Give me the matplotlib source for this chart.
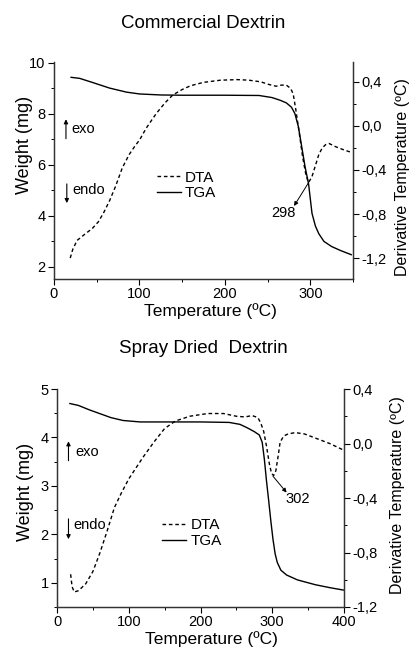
"""TGA / DTA curves for commercial and spray dried dextrin (two stacked panels)."""
import matplotlib

matplotlib.use("Agg")
import matplotlib.pyplot as plt
from matplotlib.lines import Line2D
from matplotlib.ticker import FuncFormatter, MultipleLocator

plt.rcParams["font.family"] = ["Liberation Sans", "DejaVu Sans"]

# --- Commercial dextrin ---
COM_TGA_T = [20, 30, 45, 65, 85, 100, 125, 150, 200, 240, 255, 265, 272, 278, 282, 286,
             290, 294, 298, 302, 306, 310, 316, 325, 335, 348]
COM_TGA_W = [9.42, 9.38, 9.22, 9.0, 8.84, 8.77, 8.73, 8.72, 8.72, 8.71, 8.63, 8.52, 8.42,
             8.25, 8.0, 7.5, 6.7, 5.9, 5.25, 4.1, 3.6, 3.3, 3.0, 2.8, 2.65, 2.48]
COM_DTA_T = [19, 22, 27, 35, 45, 52, 58, 65, 72, 80, 88, 95, 100, 108, 115, 120, 130, 139,
             150, 160, 175, 195, 215, 228, 242, 252, 260, 266, 272, 277, 280, 283, 287, 291,
             295, 298, 302, 306, 310, 314, 318, 322, 330, 340, 348]
COM_DTA_D = [-1.2, -1.12, -1.04, -0.99, -0.93, -0.87, -0.79, -0.68, -0.55, -0.38, -0.26,
             -0.18, -0.13, -0.02, 0.06, 0.115, 0.21, 0.28, 0.33, 0.365, 0.395, 0.415, 0.42,
             0.415, 0.4, 0.375, 0.36, 0.37, 0.37, 0.34, 0.29, 0.15, -0.06, -0.28, -0.45,
             -0.515, -0.46, -0.36, -0.26, -0.2, -0.17, -0.16, -0.19, -0.22, -0.24]

# --- Spray dried dextrin ---
SPR_TGA_T = [18, 30, 45, 60, 75, 92, 116, 150, 200, 240, 255, 265, 275, 282, 286, 289, 292,
             295, 298, 301, 304, 307, 312, 320, 335, 360, 380, 399]
SPR_TGA_W = [4.70, 4.66, 4.57, 4.49, 4.41, 4.35, 4.32, 4.32, 4.32, 4.31, 4.27, 4.2, 4.12,
             4.05, 3.9, 3.55, 3.1, 2.7, 2.28, 1.9, 1.6, 1.42, 1.26, 1.16, 1.06, 0.96, 0.9, 0.85]
SPR_DTA_T = [19, 21, 24, 30, 40, 50, 60, 70, 80, 90, 100, 110, 120, 135, 150, 165, 185, 210,
             232, 250, 262, 272, 280, 284, 288, 292, 296, 299, 302, 305, 308, 311, 316, 322,
             332, 345, 360, 380, 398]
SPR_DTA_D = [-0.96, -1.05, -1.09, -1.08, -1.03, -0.94, -0.80, -0.64, -0.47, -0.36, -0.26,
             -0.18, -0.10, 0.01, 0.11, 0.165, 0.2, 0.22, 0.22, 0.2, 0.195, 0.205, 0.19, 0.15,
             0.09, -0.02, -0.15, -0.22, -0.235, -0.2, -0.1, 0.01, 0.055, 0.07, 0.08, 0.07,
             0.04, 0.0, -0.045]

DASH = (0, (2.6, 2.0))


def comma_fmt(value, _):
    if abs(value) < 1e-9:
        value = 0.0
    return f"{value:.1f}".replace(".", ",")


def style_axis(ax):
    ax.spines["top"].set_visible(False)
    for spine in ax.spines.values():
        spine.set_linewidth(0.9)
        spine.set_color("#333333")
    ax.tick_params(which="major", direction="out", length=4, width=0.8, labelsize=10.5, pad=2)
    ax.tick_params(which="minor", direction="out", length=2.2, width=0.7)


def draw_panel(fig, rect, cfg):
    ax = fig.add_axes(rect)
    ax2 = ax.twinx()
    ax.plot(cfg["tga_t"], cfg["tga_w"], color="black", linewidth=1.0)
    ax2.plot(cfg["dta_t"], cfg["dta_d"], color="black", linewidth=1.0, linestyle=DASH)

    ax.set_xlim(cfg["xlim"])
    ax.set_ylim(cfg["wlim"])
    ax2.set_ylim(cfg["dlim"])
    ax.xaxis.set_major_locator(MultipleLocator(100))
    ax.xaxis.set_minor_locator(MultipleLocator(50))
    ax.yaxis.set_major_locator(MultipleLocator(cfg["wstep"]))
    ax.yaxis.set_minor_locator(MultipleLocator(cfg["wstep"] / 2))
    ax2.yaxis.set_major_locator(MultipleLocator(0.4))
    ax2.yaxis.set_minor_locator(MultipleLocator(0.2))
    ax2.yaxis.set_major_formatter(FuncFormatter(comma_fmt))
    style_axis(ax)
    style_axis(ax2)

    ax.set_xlabel("Temperature (ºC)", fontsize=12.5)
    ax.set_ylabel("Weight (mg)", fontsize=13)
    ax2.set_ylabel("Derivative Temperature (ºC)", fontsize=11.5)
    ax.xaxis.label.set_va("center")
    ax.yaxis.label.set_va("center")
    ax2.yaxis.label.set_va("center")
    ax.xaxis.set_label_coords(*cfg["xlabel_at"])
    ax.yaxis.set_label_coords(*cfg["ylabel_at"])
    ax2.yaxis.set_label_coords(*cfg["rlabel_at"])

    arrow = dict(arrowstyle="-|>", color="black", lw=0.8, mutation_scale=6, shrinkA=0, shrinkB=0)
    ax.annotate("", xy=cfg["exo_head"], xytext=cfg["exo_tail"], arrowprops=arrow)
    ax.text(*cfg["exo_text"], "exo", fontsize=10.5, ha="left", va="center")
    ax.annotate("", xy=cfg["endo_head"], xytext=cfg["endo_tail"], arrowprops=arrow)
    ax.text(*cfg["endo_text"], "endo", fontsize=10.5, ha="left", va="center")

    peak_arrow = dict(arrowstyle="-|>", color="black", lw=0.7, mutation_scale=6, shrinkA=0, shrinkB=0)
    ax2.annotate("", xy=cfg["peak_head"], xytext=cfg["peak_tail"], arrowprops=peak_arrow)
    ax2.text(*cfg["peak_text"], cfg["peak_label"], fontsize=10.5, ha="center", va="center")

    handles = [
        Line2D([], [], color="black", linewidth=1.0, linestyle=DASH),
        Line2D([], [], color="black", linewidth=1.0),
    ]
    ax2.legend(
        handles, ["DTA", "TGA"], loc="center left", bbox_to_anchor=cfg["legend_at"],
        frameon=False, borderpad=0, borderaxespad=0, fontsize=11, handlelength=1.6,
        handletextpad=0.25, labelspacing=0.12,
    )
    fig.text(cfg["title_at"][0], cfg["title_at"][1], cfg["title"], fontsize=13.5,
             ha="center", va="center")
    return ax, ax2


def main():
    fig = plt.figure(figsize=(4.09, 6.48), dpi=100)
    top = dict(
        tga_t=COM_TGA_T, tga_w=COM_TGA_W, dta_t=COM_DTA_T, dta_d=COM_DTA_D,
        xlim=(0, 350), wlim=(1.53, 10.02), dlim=(-1.39, 0.58), wstep=2,
        xlabel_at=(0.522, -0.147), ylabel_at=(-0.097, 0.617), rlabel_at=(1.164, 0.47),
        exo_tail=(14, 7.02), exo_head=(14, 7.78), exo_text=(20, 7.41),
        endo_tail=(15, 5.25), endo_head=(15, 4.5), endo_text=(21, 5.02),
        peak_tail=(298, -0.515), peak_head=(281, -0.727), peak_text=(268, -0.79),
        peak_label="298", legend_at=(0.344, 0.431),
        title="Commercial Dextrin", title_at=(203 / 409, 1 - 23 / 648),
    )
    bottom = dict(
        tga_t=SPR_TGA_T, tga_w=SPR_TGA_W, dta_t=SPR_DTA_T, dta_d=SPR_DTA_D,
        xlim=(0, 400), wlim=(0.5, 5.0), dlim=(-1.2, 0.4), wstep=1,
        xlabel_at=(0.537, -0.147), ylabel_at=(-0.111, 0.528), rlabel_at=(1.188, 0.514),
        exo_tail=(16, 3.52), exo_head=(16, 3.92), exo_text=(25, 3.69),
        endo_tail=(16, 2.32), endo_head=(16, 1.9), endo_text=(23, 2.19),
        peak_tail=(301, -0.24), peak_head=(320, -0.36), peak_text=(336, -0.41),
        peak_label="302", legend_at=(0.366, 0.338),
        title="Spray Dried  Dextrin", title_at=(203 / 409, 1 - 348 / 648),
    )
    draw_panel(fig, [54 / 409, 1 - 279 / 648, 299 / 409, 217 / 648], top)
    draw_panel(fig, [57 / 409, 1 - 607 / 648, 287 / 409, 218 / 648], bottom)
    fig.savefig("out.png", dpi=100)
    plt.close(fig)


if __name__ == "__main__":
    main()
